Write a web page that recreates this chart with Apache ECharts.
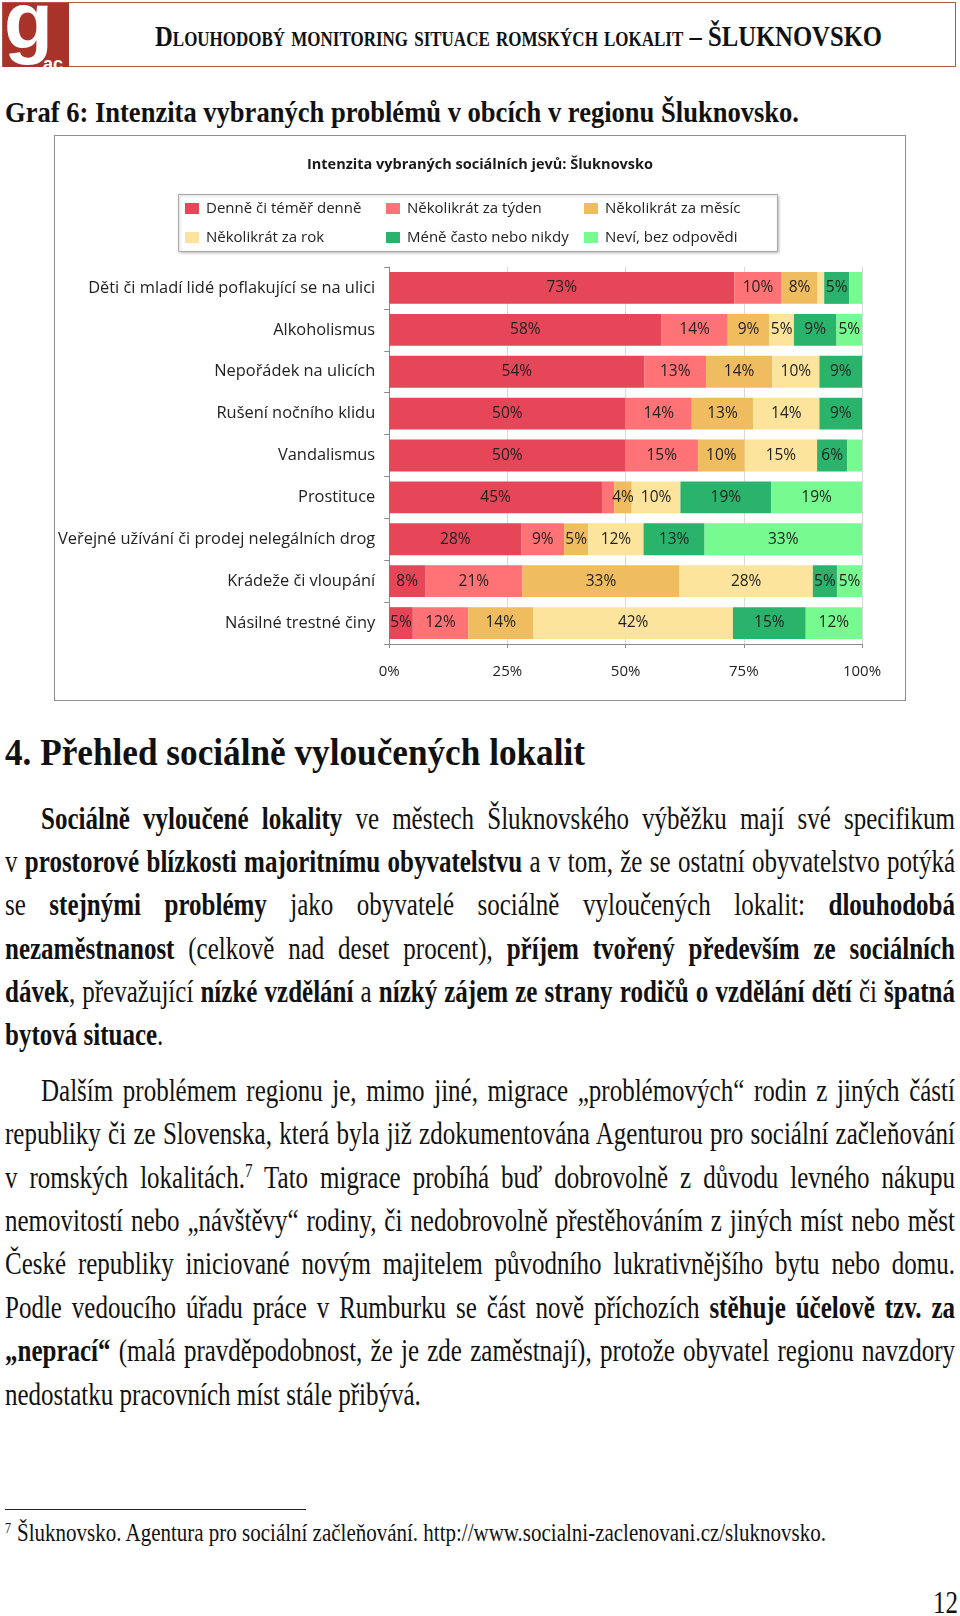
<!DOCTYPE html>
<html>
<head>
<meta charset="utf-8">
<script src="https://cdn.jsdelivr.net/npm/echarts@6/dist/echarts.min.js"></script>
<style>
  html,body{margin:0;padding:0;background:#fff;}
  body{width:960px;height:1616px;position:relative;overflow:hidden;font-family:"Liberation Serif",serif;color:#111;}
  .abs{position:absolute;}
  #hdr{left:2px;top:2px;width:954px;height:65px;border:1.5px solid #b5554a;box-sizing:border-box;}
  #logo{left:3px;top:3px;width:66px;height:64px;background:#a8332b;overflow:hidden;}
  #chartBox{left:54px;top:135px;width:852px;height:566px;border:1px solid #8f8f8f;box-sizing:border-box;}
  #chart{width:850px;height:564px;}
  .ln{position:absolute;left:5px;width:950px;height:30px;line-height:30px;font-size:25px;white-space:nowrap;text-align:justify;text-align-last:justify;transform:scaleY(1.25);transform-origin:50% 50%;}
  .ln.ind{left:41px;width:914px;}
  .ln.last{text-align-last:left;}
  .ln b{font-weight:bold;}
  sup{font-size:15px;line-height:0;vertical-align:9px;}
</style>
</head>
<body>
<div id="hdr" class="abs"></div>
<div id="logo" class="abs">
  <svg width="66" height="64">
    <text x="1" y="45" font-family="Liberation Sans" font-weight="bold" font-size="80" fill="#fff">g</text>
    <text x="40" y="67" font-family="Liberation Sans" font-weight="bold" font-size="18" fill="#fff">ac</text>
  </svg>
</div>
<svg class="abs" style="left:0;top:0" width="960" height="140">
  <text transform="translate(155,46) scale(1,1.35)" font-family="Liberation Serif" font-weight="bold" font-size="22" font-variant="small-caps" fill="#111" textLength="727" lengthAdjust="spacingAndGlyphs">Dlouhodobý monitoring situace romských lokalit – ŠLUKNOVSKO</text>
  <text transform="translate(5,122) scale(1,1.3)" font-family="Liberation Serif" font-weight="bold" font-size="22" fill="#111" textLength="794" lengthAdjust="spacingAndGlyphs">Graf 6: Intenzita vybraných problémů v obcích v regionu Šluknovsko.</text>
</svg>

<div id="chartBox" class="abs"><div id="chart"></div></div>

<svg class="abs" style="left:0;top:720px" width="960" height="60">
  <text transform="translate(5,45) scale(1,1.1)" font-family="Liberation Serif" font-weight="bold" font-size="34" fill="#111" textLength="580" lengthAdjust="spacingAndGlyphs">4. Přehled sociálně vyloučených lokalit</text>
</svg>

<div class="ln ind" style="top:804px"><b>Sociálně vyloučené lokality</b> ve městech Šluknovského výběžku mají své specifikum</div>
<div class="ln" style="top:847px">v <b>prostorové blízkosti majoritnímu obyvatelstvu</b> a v tom, že se ostatní obyvatelstvo potýká</div>
<div class="ln" style="top:890px">se <b>stejnými problémy</b> jako obyvatelé sociálně vyloučených lokalit: <b>dlouhodobá</b></div>
<div class="ln" style="top:934px"><b>nezaměstnanost</b> (celkově nad deset procent), <b>příjem tvořený především ze sociálních</b></div>
<div class="ln" style="top:977px"><b>dávek</b>, převažující <b>nízké vzdělání</b> a <b>nízký zájem ze strany rodičů o vzdělání dětí</b> či <b>špatná</b></div>
<div class="ln last" style="top:1020px"><b>bytová situace</b>.</div>

<div class="ln ind" style="top:1076px">Dalším problémem regionu je, mimo jiné, migrace „problémových“ rodin z jiných částí</div>
<div class="ln" style="top:1119px">republiky či ze Slovenska, která byla již zdokumentována Agenturou pro sociální začleňování</div>
<div class="ln" style="top:1163px">v romských lokalitách.<sup>7</sup> Tato migrace probíhá buď dobrovolně z důvodu levného nákupu</div>
<div class="ln" style="top:1206px">nemovitostí nebo „návštěvy“ rodiny, či nedobrovolně přestěhováním z jiných míst nebo měst</div>
<div class="ln" style="top:1249px">České republiky iniciované novým majitelem původního lukrativnějšího bytu nebo domu.</div>
<div class="ln" style="top:1293px">Podle vedoucího úřadu práce v Rumburku se část nově příchozích <b>stěhuje účelově tzv. za</b></div>
<div class="ln" style="top:1336px"><b>„neprací“</b> (malá pravděpodobnost, že je zde zaměstnají), protože obyvatel regionu navzdory</div>
<div class="ln last" style="top:1380px">nedostatku pracovních míst stále přibývá.</div>

<div class="abs" style="left:5px;top:1509px;width:301px;height:1px;background:#222"></div>
<svg class="abs" style="left:0;top:1515px" width="960" height="100">
  <text transform="translate(5,18) scale(1,1.25)" font-family="Liberation Serif" font-size="12" fill="#111">7</text>
  <text transform="translate(17,26) scale(1,1.25)" font-family="Liberation Serif" font-size="20" fill="#111" textLength="809" lengthAdjust="spacingAndGlyphs">Šluknovsko. Agentura pro sociální začleňování. http://www.socialni-zaclenovani.cz/sluknovsko.</text>
  <text transform="translate(933,98) scale(1,1.3)" font-family="Liberation Serif" font-size="25" fill="#111">12</text>
</svg>

<script>
const categories = [
  'Děti či mladí lidé poflakující se na ulici',
  'Alkoholismus',
  'Nepořádek na ulicích',
  'Rušení nočního klidu',
  'Vandalismus',
  'Prostituce',
  'Veřejné užívání či prodej nelegálních drog',
  'Krádeže či vloupání',
  'Násilné trestné činy'
];
const seriesNames = ['Denně či téměř denně','Několikrát za týden','Několikrát za měsíc','Několikrát za rok','Méně často nebo nikdy','Neví, bez odpovědi'];
const denne  = [73, 57.6, 54, 50, 50,   45,   28,   7.6,  5];
const tyden  = [10, 14,   13, 14, 15.3, 2.6,  9,    20.6, 11.7];
const mesic  = [7.6, 8.8, 14, 13, 9.9,  3.7,  5.1,  33.2, 13.8];
const rok    = [1.4, 5.2, 10, 14, 15.3, 10.3, 11.7, 28.2, 42.2];
const mene   = [5.3, 9,   9,  9,  6.4,  19.2, 12.9, 5.1,  15.4];
const nevi   = [2.7, 5.4, 0,  0,  3.1,  19.2, 33.3, 5.3,  11.9];
const xTicks = ['0%','25%','50%','75%','100%'];
const colors = ['#e64658','#ff7275','#efbc60','#fde49c','#2ab36b','#77fa8f'];

const values = [denne, tyden, mesic, rok, mene, nevi];
const font = 'Open Sans';

// legend grid: 3 columns x 2 rows inside a framed box
const legendCols = [130, 331, 529];
const legendRows = [65, 94];
const legends = seriesNames.map((n,i)=>({
  data:[n], left:legendCols[i%3], top:legendRows[Math.floor(i/3)],
  padding:0, itemWidth:14, itemHeight:11, icon:'rect',
  textStyle:{fontSize:15, color:'#222', fontFamily:font, padding:[0,0,0,2]}
}));

const chart = echarts.init(document.getElementById('chart'), null, {renderer:'canvas'});
chart.setOption({
  animation:false,
  textStyle:{fontFamily:font},
  title:{
    text:'Intenzita vybraných sociálních jevů: Šluknovsko',
    left:'center', top:16,
    textStyle:{fontSize:14.5, fontWeight:'bold', color:'#1a1a1a', fontFamily:font}
  },
  graphic:[{
    type:'rect', left:123, top:58, z:-1,
    shape:{width:599, height:57},
    style:{fill:'#fff', stroke:'#a8a8a8', lineWidth:1,
      shadowColor:'rgba(0,0,0,0.25)', shadowBlur:3, shadowOffsetX:1, shadowOffsetY:1}
  }],
  legend:legends,
  grid:{left:334, right:43, top:131, bottom:56, containLabel:false},
  xAxis:{
    type:'value', min:0, max:100, interval:25,
    axisLine:{show:true, lineStyle:{color:'#8a8a8a'}},
    axisTick:{show:true, length:4, lineStyle:{color:'#8a8a8a'}},
    splitLine:{show:true, lineStyle:{color:'#d9d9d9'}},
    axisLabel:{fontSize:15, color:'#222', margin:20, formatter:v => xTicks[Math.round(v/25)]}
  },
  yAxis:{
    type:'category', data:categories, inverse:true,
    axisLine:{show:true, lineStyle:{color:'#8a8a8a'}},
    axisTick:{show:true, length:5, lineStyle:{color:'#8a8a8a'}},
    axisLabel:{fontSize:16.4, color:'#222', margin:14}
  },
  series: seriesNames.map((n,i)=>({
    name:n, type:'bar', stack:'s', barCategoryGap:'24%',
    itemStyle:{color:colors[i]},
    label:{show:true, position:'inside', fontSize:15.5, color:'#222',
      formatter:p => p.value >= 3.5 ? Math.round(p.value)+'%' : ''},
    data:values[i]
  }))
});
</script>
</body>
</html>
